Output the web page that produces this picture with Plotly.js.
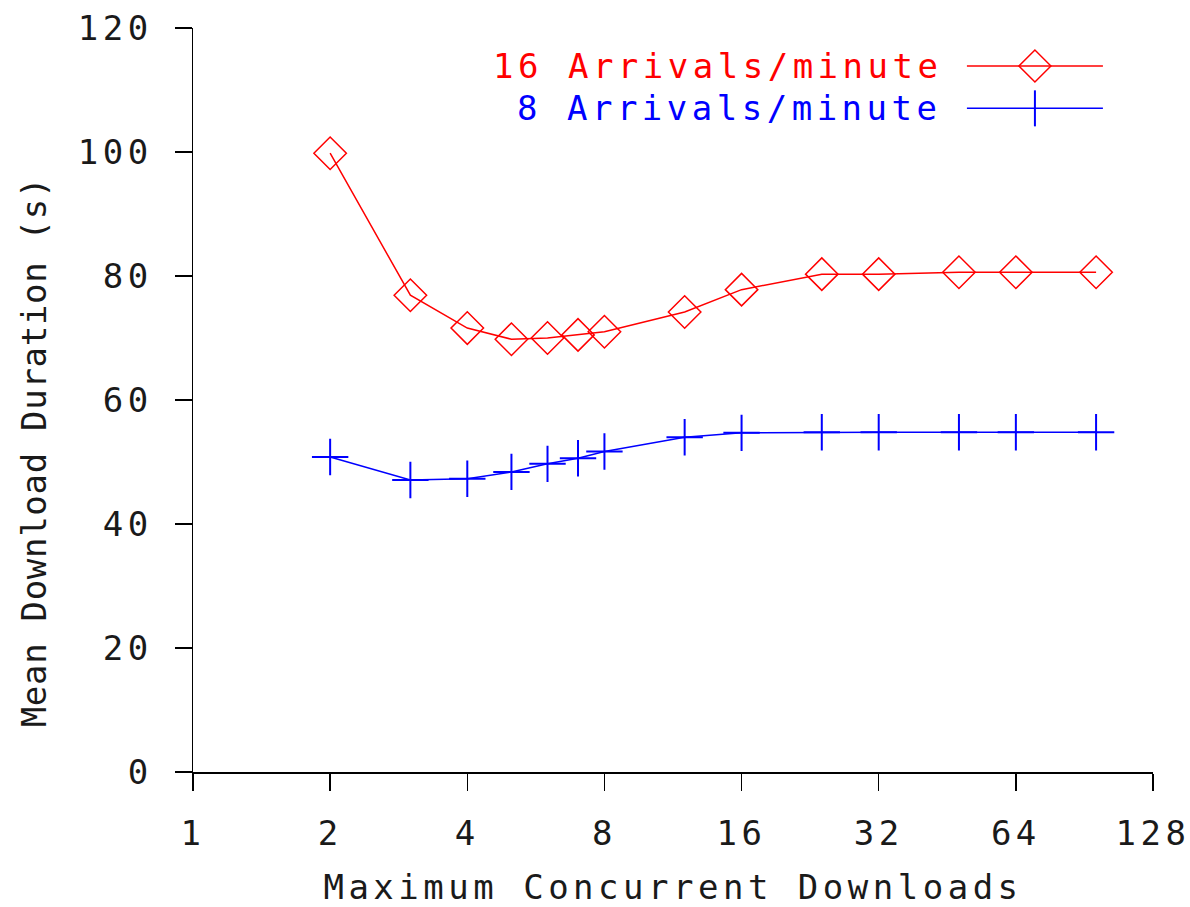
<!DOCTYPE html>
<html>
<head>
<meta charset="utf-8">
<script src="https://cdn.plot.ly/plotly-3.0.1.min.js"></script>
<style>
  html, body { margin: 0; padding: 0; background: #fff; }
  #chart { width: 1190px; height: 907px; }
  /* wide, evenly spaced lettering for every label (also used when text is measured) */
  svg text { letter-spacing: 4.5px; }
  /* the vertical axis title is set tighter */
  #chart svg .annotation[data-index="2"] text { letter-spacing: 0.7px; }
</style>
</head>
<body>
<div id="chart"></div>
<script>
// Maximum concurrent downloads (log2 axis)
const maxDownloads = [2, 3, 4, 5, 6, 7, 8, 12, 16, 24, 32, 48, 64, 96];

// Mean download duration in seconds for each arrival rate
const duration16PerMin = [99.8, 76.9, 71.6, 69.8, 70.0, 70.5, 71.0, 74.2, 77.8, 80.3, 80.3, 80.6, 80.6, 80.6];
const duration8PerMin  = [50.8, 47.1, 47.3, 48.4, 49.7, 50.6, 51.7, 54.0, 54.7, 54.8, 54.8, 54.8, 54.8, 54.8];

const seriesNames = ['16 Arrivals/minute', '8 Arrivals/minute'];
const seriesColors = ['#ff0000', '#0000ff'];

const xTickVals = [1, 2, 4, 8, 16, 32, 64, 128];
const xTickText = ['1', '2', '4', '8', '16', '32', '64', '128'];
const yTickVals = [0, 20, 40, 60, 80, 100, 120];

const xTitle = 'Maximum Concurrent Downloads';
const yTitle = 'Mean Download Duration (s)';

const FONT = 'DejaVu Sans Mono, monospace';
const INK = '#1a1a1a';

const traces = [
  {
    x: maxDownloads, y: duration16PerMin, name: seriesNames[0],
    type: 'scatter', mode: 'lines+markers',
    line: { color: seriesColors[0], width: 1.5 },
    marker: { symbol: 'diamond-open', size: 25, color: seriesColors[0], line: { width: 1.5, color: seriesColors[0] } },
    cliponaxis: false, showlegend: false
  },
  {
    x: maxDownloads, y: duration8PerMin, name: seriesNames[1],
    type: 'scatter', mode: 'lines+markers',
    line: { color: seriesColors[1], width: 1.5 },
    marker: { symbol: 'cross-thin-open', size: 26, color: seriesColors[1], line: { width: 2, color: seriesColors[1] } },
    cliponaxis: false, showlegend: false
  }
];

// key entries: text on the left, sample line with symbol on the right
const keyTextX = 0.782;
const keySampleX = 0.877;
const keyRowsY = [0.949, 0.892];

const annotations = seriesNames.map((name, i) => ({
  xref: 'paper', yref: 'paper', x: keyTextX, y: keyRowsY[i],
  xanchor: 'right', yanchor: 'middle', showarrow: false,
  text: name, font: { family: FONT, size: 34, color: seriesColors[i] }
}));

// vertical axis title, sitting a little below the middle of the axis
annotations.push({
  xref: 'paper', yref: 'paper', x: -0.166, y: 0.43,
  xanchor: 'center', yanchor: 'middle', showarrow: false, textangle: -90,
  text: yTitle, font: { family: FONT, size: 34, color: INK }
});

const pix = (extra) => Object.assign({
  xref: 'paper', yref: 'paper', xsizemode: 'pixel', ysizemode: 'pixel'
}, extra);

const shapes = [
  pix({ type: 'line', xanchor: keySampleX, yanchor: keyRowsY[0], x0: -68, x1: 68, y0: 0, y1: 0,
        line: { color: seriesColors[0], width: 1.5 } }),
  pix({ type: 'path', xanchor: keySampleX, yanchor: keyRowsY[0], path: 'M16,0 L0,16 L-16,0 L0,-16 Z',
        line: { color: seriesColors[0], width: 1.5 } }),
  pix({ type: 'line', xanchor: keySampleX, yanchor: keyRowsY[1], x0: -68, x1: 68, y0: 0, y1: 0,
        line: { color: seriesColors[1], width: 1.5 } }),
  pix({ type: 'line', xanchor: keySampleX, yanchor: keyRowsY[1], x0: 0, x1: 0, y0: -18, y1: 18,
        line: { color: seriesColors[1], width: 2 } })
];

const axisCommon = {
  showgrid: false, zeroline: false, showline: true,
  linecolor: '#000', linewidth: 1.5,
  ticks: 'outside', ticklen: 17, tickwidth: 1.5, tickcolor: '#000',
  tickfont: { family: FONT, size: 34, color: INK },
  ticklabeloverflow: 'allow'
};

const layout = {
  width: 1190, height: 907,
  paper_bgcolor: '#fff', plot_bgcolor: '#fff',
  margin: { l: 193, r: 37, t: 28, b: 135 },
  showlegend: false,
  xaxis: Object.assign({}, axisCommon, {
    type: 'log',
    range: [0, Math.log10(128)],
    tickmode: 'array', tickvals: xTickVals, ticktext: xTickText,
    ticklabelstandoff: 14,
    title: { text: xTitle, font: { family: FONT, size: 34, color: INK }, standoff: 26 }
  }),
  yaxis: Object.assign({}, axisCommon, {
    range: [0, 120],
    tickmode: 'array', tickvals: yTickVals,
    ticklabelstandoff: 15
  }),
  annotations: annotations,
  shapes: shapes
};

Plotly.newPlot('chart', traces, layout, { displayModeBar: false, staticPlot: true });
</script>
</body>
</html>
